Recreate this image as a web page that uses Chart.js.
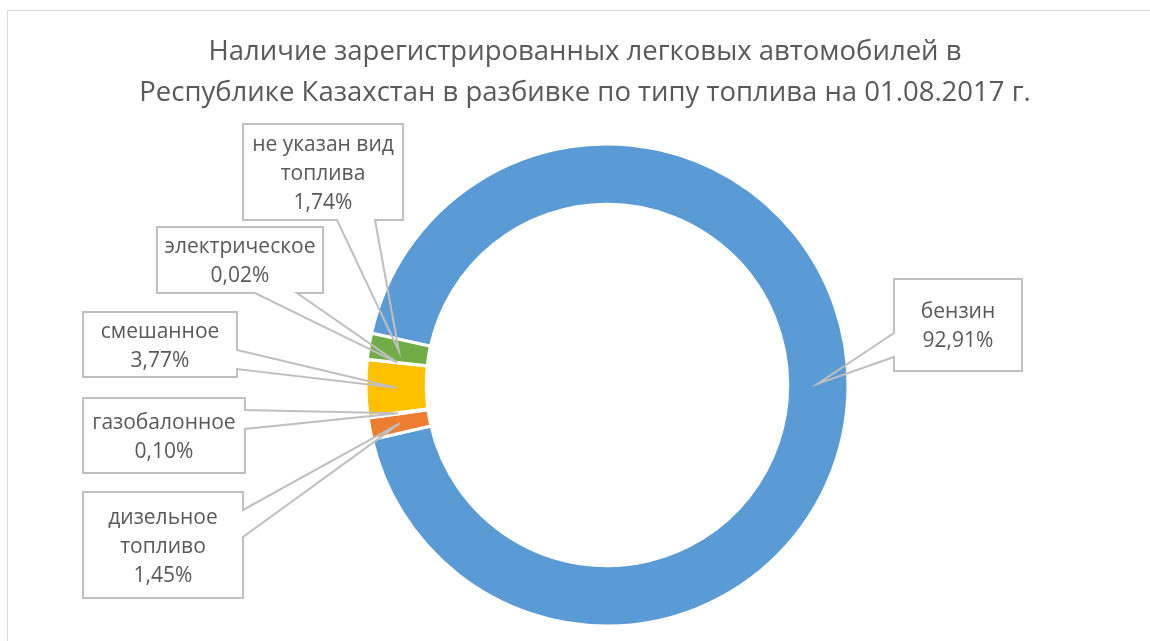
<!DOCTYPE html>
<html lang="ru">
<head>
<meta charset="utf-8">
<title>Легковые автомобили по типу топлива</title>
<script src="https://cdn.jsdelivr.net/npm/chart.js@4.4.1/dist/chart.umd.min.js"></script>
<style>
  html, body { margin: 0; padding: 0; background: #ffffff; }
  #wrap { width: 1150px; height: 641px; }
</style>
</head>
<body>
<div id="wrap"><canvas id="fuelChart" width="1150" height="641"></canvas></div>
<script>
// Fuel types, in slice order (clockwise)
const fuelTypes = ['бензин', 'дизельное топливо', 'газобалонное', 'смешанное', 'электрическое', 'не указан вид топлива'];
// Share of registered passenger cars, %
const sharePercent = [92.91, 1.45, 0.10, 3.77, 0.02, 1.74];
const sliceColors = ['#5b9bd5', '#ed7d31', '#a5a5a5', '#ffc000', '#4472c4', '#70ad47'];

const titleLines = [
    'Наличие зарегистрированных легковых автомобилей в',
    'Республике Казахстан в разбивке по типу топлива на 01.08.2017 г.'
];

// Callout boxes for the data labels (box + side of the wedge and its base span)
const calloutBoxes = [
    { x: 894, y: 279, w: 128, h: 92,  side: 'left',   from: 333, to: 357 },
    { x: 83,  y: 492, w: 160, h: 106, side: 'right',  from: 510, to: 537 },
    { x: 83,  y: 398, w: 162, h: 75,  side: 'right',  from: 410, to: 429 },
    { x: 83,  y: 312, w: 154, h: 65,  side: 'right',  from: 350, to: 369 },
    { x: 157, y: 227, w: 166, h: 66,  side: 'bottom', from: 255, to: 297 },
    { x: 243, y: 124, w: 160, h: 96,  side: 'bottom', from: 337, to: 375 }
];

const textColor = '#595959';
const lineColor = '#bfbfbf';

function fmtPercent(v) {
    return v.toFixed(2).replace('.', ',') + '%';
}

function wrapWords(ctx, text, maxWidth) {
    const words = text.split(' ');
    const lines = [];
    let cur = '';
    words.forEach(w => {
        const test = cur ? cur + ' ' + w : w;
        if (cur && ctx.measureText(test).width > maxWidth) {
            lines.push(cur);
            cur = w;
        } else {
            cur = test;
        }
    });
    if (cur) lines.push(cur);
    return lines;
}

// Light frame of the chart object + the two-line title
const framePlugin = {
    id: 'frame',
    beforeDraw(chart) {
        const ctx = chart.ctx;
        ctx.save();
        ctx.strokeStyle = '#d9d9d9';
        ctx.lineWidth = 1;
        ctx.strokeRect(7.5, 10.5, 1300, 800);

        ctx.font = '27.5px "Open Sans"';
        ctx.fillStyle = textColor;
        ctx.textAlign = 'center';
        ctx.textBaseline = 'middle';
        titleLines.forEach((ln, k) => ctx.fillText(ln, 585, 52 + k * 41));
        ctx.restore();
    }
};

// Excel-like callout labels pointing to the middle of each slice
const calloutPlugin = {
    id: 'callouts',
    afterDatasetsDraw(chart) {
        const ctx = chart.ctx;
        const arcs = chart.getDatasetMeta(0).data;
        ctx.save();
        arcs.forEach((arc, i) => {
            const b = calloutBoxes[i];
            if (!b) return;
            const p = arc.getProps(['x', 'y', 'startAngle', 'endAngle', 'innerRadius', 'outerRadius'], true);
            const mid = (p.startAngle + p.endAngle) / 2;
            const r = (p.innerRadius + p.outerRadius) / 2;
            const tip = { x: p.x + Math.cos(mid) * r, y: p.y + Math.sin(mid) * r };

            const L = b.x, T = b.y, R = b.x + b.w, B = b.y + b.h;
            const pts = [[L, T]];
            if (b.side === 'top') pts.push([b.from, T], [tip.x, tip.y], [b.to, T]);
            pts.push([R, T]);
            if (b.side === 'right') pts.push([R, b.from], [tip.x, tip.y], [R, b.to]);
            pts.push([R, B]);
            if (b.side === 'bottom') pts.push([b.to, B], [tip.x, tip.y], [b.from, B]);
            pts.push([L, B]);
            if (b.side === 'left') pts.push([L, b.to], [tip.x, tip.y], [L, b.from]);

            ctx.beginPath();
            pts.forEach((pt, k) => k ? ctx.lineTo(pt[0], pt[1]) : ctx.moveTo(pt[0], pt[1]));
            ctx.closePath();
            ctx.strokeStyle = lineColor;
            ctx.lineWidth = 2;
            ctx.lineJoin = 'miter';
            ctx.stroke();

            ctx.font = '21px "Open Sans"';
            ctx.fillStyle = textColor;
            ctx.textAlign = 'center';
            ctx.textBaseline = 'middle';
            const lines = wrapWords(ctx, chart.data.labels[i], b.w - 8);
            lines.push(fmtPercent(chart.data.datasets[0].data[i]));
            const lh = 29;
            const cy = T + b.h / 2 + 2 - (lines.length - 1) * lh / 2;
            lines.forEach((ln, k) => ctx.fillText(ln, L + b.w / 2, cy + k * lh));
        });
        ctx.restore();
    }
};

const ctx = document.getElementById('fuelChart').getContext('2d');
new Chart(ctx, {
    type: 'doughnut',
    data: {
        labels: fuelTypes,
        datasets: [{
            data: sharePercent,
            backgroundColor: sliceColors,
            borderColor: '#ffffff',
            borderWidth: 3
        }]
    },
    options: {
        responsive: false,
        animation: false,
        rotation: 282.4,
        cutout: '75%',
        radius: 241,
        layout: { padding: { left: 64, right: 0, top: 129, bottom: 0 } },
        plugins: {
            legend: { display: false },
            tooltip: { enabled: false },
            title: { display: false }
        }
    },
    plugins: [framePlugin, calloutPlugin]
});
</script>
</body>
</html>
